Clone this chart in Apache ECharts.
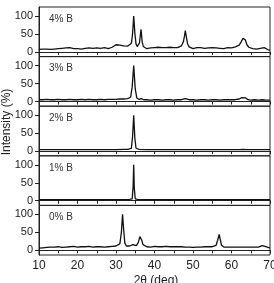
<!DOCTYPE html>
<html>
<head>
<meta charset="utf-8">
<script src="https://cdn.jsdelivr.net/npm/echarts@6/dist/echarts.min.js"></script>
<style>
    html, body { margin: 0; padding: 0; background: #fff; }
    #chart { width: 274px; height: 283px; }
</style>
</head>
<body>
<div id="chart"></div>
<script>
// panel names, top to bottom
var panelNames = ['4% B', '3% B', '2% B', '1% B', '0% B'];
var xTicks = [10, 20, 30, 40, 50, 60, 70];
var yTicks = [0, 50, 100];

// 2theta (deg), intensity (%)
var b4 = [[10,7],[10.5,9],[11,8],[11.5,10],[12,8],[12.5,9],[13,7],[13.5,9],[14,8],[14.5,10],[15,9],[15.5,8],[16,10],[16.5,9],
    [17,11],[17.5,13],[18,12],[18.5,10],[19,9],[19.5,11],[20,9],[20.5,10],[21,8],[21.5,11],[22,10],[22.5,13],[23,11],[23.5,14],
    [24,10],[24.5,9],[25,11],[25.5,8],[26,10],[26.5,9],[27,12],[27.5,10],[28,9],[28.5,11],[29,13],[29.5,17],[30,20],[30.5,18],
    [31,19],[31.5,16],[32,17],[32.5,15],[33,16],[33.5,18],[34,24],[34.3,50],[34.6,100],[34.9,52],[35.2,22],[35.5,15],[35.8,14],
    [36.1,25],[36.5,63],[36.8,28],[37.1,15],[37.5,12],[38,9],[38.5,12],[39,11],[39.5,13],[40,12],[40.5,11],[41,13],[41.5,11],
    [42,12],[42.5,10],[43,12],[43.5,11],[44,13],[44.5,11],[45,12],[45.5,13],[46,12],[46.5,14],[47,17],[47.5,28],[47.8,45],
    [48,59],[48.3,40],[48.6,22],[49,14],[49.5,11],[50,9],[50.5,11],[51,12],[51.5,10],[52,12],[52.5,11],[53,10],[53.5,12],
    [54,11],[54.5,10],[55,12],[55.5,9],[56,11],[56.5,12],[57,10],[57.5,11],[58,9],[58.5,11],[59,12],[59.5,10],[60,11],[60.5,12],
    [61,14],[61.5,15],[62,19],[62.5,28],[63,38],[63.3,41],[63.6,33],[64,20],[64.5,13],[65,11],[65.5,9],[66,10],[66.5,8],
    [67,9],[67.5,10],[68,9],[68.5,12],[69,8],[69.5,6],[70,5]];

var b3 = [[10,5],[11,5],[12,6],[13,5],[14,5],[15,6],[16,5],[17,5],[18,6],[19,5],[20,5],[21,6],[22,5],[23,6],[24,5],[25,5],
    [26,6],[27,5],[28,6],[29,6],[30,6],[31,7],[32,7],[33,8],[33.8,12],[34.2,40],[34.6,100],[35,35],[35.4,10],[36,6],[36.6,8],
    [37.2,5],[38,5],[39,4],[40,5],[41,5],[42,4],[43,5],[44,5],[45,4],[46,5],[47,5],[47.5,6],[48,8],[48.5,6],[49,5],[50,5],
    [51,4],[52,5],[53,5],[54,4],[55,5],[56,5],[57,4],[58,5],[59,5],[60,5],[61,5],[62,7],[62.7,11],[63.2,15],[63.7,10],
    [64.3,5],[65,4],[66,5],[67,4],[68,5],[69,4],[70,4]];

var b2 = [[10,4],[12,4],[14,4],[16,4],[18,4],[20,4],[22,4],[24,4],[26,4],[28,4],[30,4],[32,5],[33,5],[34,8],[34.3,40],
    [34.6,100],[34.9,35],[35.2,8],[36,5],[38,4],[40,4],[42,4],[44,4],[46,4],[48,4],[50,4],[52,4],[54,4],[56,4],[58,4],
    [60,4],[62,4],[63,5],[64,4],[66,4],[68,4],[70,4]];

var b1 = [[10,3],[12,3],[14,3],[16,3],[18,3],[20,3],[22,3],[24,3],[26,3],[28,3],[30,3],[32,3],[33.5,4],[34.2,5],[34.45,40],
    [34.6,100],[34.75,35],[35,5],[35.6,4],[37,3],[40,3],[42,3],[44,3],[46,3],[48,3],[50,3],[52,3],[54,3],[56,3],[58,3],
    [60,3],[62,3],[64,3],[66,3],[68,3],[70,3]];

var b0 = [[10,6],[10.5,8],[11,7],[11.5,9],[12,8],[12.5,7],[13,9],[13.5,8],[14,9],[14.5,8],[15,10],[15.5,9],[16,8],[16.5,10],
    [17,9],[17.5,11],[18,10],[18.5,12],[19,11],[19.5,10],[20,9],[20.5,11],[21,10],[21.5,9],[22,10],[22.5,9],[23,11],[23.5,10],
    [24,9],[24.5,11],[25,10],[25.5,12],[26,10],[26.5,11],[27,9],[27.5,11],[28,10],[28.5,12],[29,11],[29.5,10],[30,12],[30.5,13],
    [31,18],[31.4,50],[31.7,100],[32,55],[32.3,20],[32.7,12],[33,11],[33.5,12],[34,13],[34.4,16],[34.8,12],[35.3,13],[35.8,22],
    [36.2,38],[36.4,41],[36.7,28],[37,16],[37.5,11],[38,10],[38.5,11],[39,9],[39.5,10],[40,11],[40.5,9],[41,10],[41.5,9],
    [42,10],[42.5,9],[43,11],[43.5,9],[44,10],[44.5,9],[45,10],[45.5,8],[46,10],[46.5,9],[47,10],[47.5,11],[48,9],[48.5,10],
    [49,9],[49.5,10],[50,8],[50.5,10],[51,9],[51.5,10],[52,9],[52.5,8],[53,10],[53.5,9],[54,10],[54.5,9],[55,10],[55.5,11],
    [56,14],[56.4,28],[56.8,44],[57.1,30],[57.4,14],[57.8,10],[58,9],[58.5,8],[59,9],[59.5,8],[60,9],[60.5,8],[61,9],[61.5,8],
    [62,9],[62.5,8],[63,9],[63.5,8],[64,9],[64.5,8],[65,9],[65.5,10],[66,9],[66.5,10],[67,9],[67.5,11],[68,13],[68.3,14],
    [68.7,11],[69,9],[69.5,8],[70,6]];

var panelData = [b4, b3, b2, b1, b0];

var myChart = echarts.init(document.getElementById('chart'), null, {renderer: 'canvas'});

var font = '"Liberation Sans", Arial, sans-serif';
var plotTop = 7;
var panelH = 49.6;

var grids = [], xAxes = [], yAxes = [], series = [], texts = [];

panelNames.forEach(function (name, i) {
    var last = i === panelNames.length - 1;
    var top = plotTop + i * panelH;
    // v6 would shrink the grid to keep labels inside, so switch that off
    grids.push({
        left: 39, right: 4, top: top, height: panelH,
        containLabel: false, outerBoundsMode: 'none',
        show: true, borderColor: '#222', borderWidth: 1
    });
    xAxes.push({
        type: 'value', gridIndex: i, min: xTicks[0], max: xTicks[xTicks.length - 1], interval: 10,
        axisLine: {show: true, lineStyle: {color: '#222', width: 1}},
        axisTick: {show: true, inside: false, length: 3, lineStyle: {color: '#222'}},
        minorTick: {show: true, splitNumber: 2, length: 3, lineStyle: {color: '#222'}},
        splitLine: {show: false},
        axisLabel: {show: last, margin: 5, color: '#222', fontSize: 12, fontFamily: font}
    });
    yAxes.push({
        type: 'value', gridIndex: i, min: -13, max: 125,
        axisLine: {show: true, lineStyle: {color: '#222', width: 1}},
        axisTick: {show: true, inside: false, length: 4, customValues: yTicks, lineStyle: {color: '#222'}},
        axisLabel: {show: true, customValues: yTicks, margin: 6, color: '#222', fontSize: 11, fontFamily: font},
        splitLine: {show: false}
    });
    series.push({
        type: 'line', xAxisIndex: i, yAxisIndex: i,
        data: panelData[i], showSymbol: false, smooth: false,
        lineStyle: {color: '#111', width: 1.3}
    });
    texts.push({
        type: 'text', x: 49, y: top + 12,
        style: {text: name, fill: '#333', font: '10px ' + font, textAlign: 'left', textVerticalAlign: 'middle'}
    });
});

// axis titles
texts.push({
    type: 'text', x: 7, y: 122, rotation: Math.PI / 2,
    style: {text: 'Intensity (%)', fill: '#222', font: '12px ' + font, textAlign: 'center', textVerticalAlign: 'middle'}
});
texts.push({
    type: 'text', x: 156, y: 281,
    style: {text: '2θ (deg)', fill: '#222', font: '12px ' + font, textAlign: 'center', textVerticalAlign: 'middle'}
});

var option = {
    animation: false,
    grid: grids,
    xAxis: xAxes,
    yAxis: yAxes,
    series: series,
    graphic: texts
};

myChart.setOption(option);
</script>
</body>
</html>
